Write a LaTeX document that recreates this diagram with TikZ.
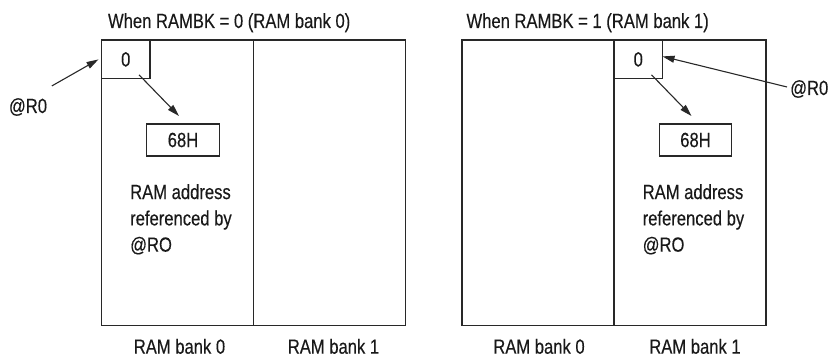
\documentclass[tikz,border=0pt]{standalone}
\usepackage{fontspec}
\setmainfont[FakeStretch=0.81,FakeBold=0.3]{Liberation Sans}
\usepackage{tikz}
\usetikzlibrary{arrows.meta,positioning,calc}
\definecolor{ink}{RGB}{40,40,40}
\definecolor{textgray}{RGB}{25,25,25}

\begin{document}
\begin{tikzpicture}[x=1pt,y=1pt,font=\fontsize{20.5}{26.3}\selectfont,text=textgray,
  bank/.style={draw=ink,line width=1.3pt,outer sep=0pt,inner sep=0pt,minimum width=152pt,minimum height=285.7pt},
  cell/.style={draw=ink,line width=1.2pt,outer sep=0pt,minimum width=#1,minimum height=#1*0.8},
  val/.style={draw=ink,line width=1.2pt,outer sep=0pt,minimum width=72.6pt,minimum height=32pt},
  lbl/.style={inner sep=0pt},
  arr/.style={draw=ink,line width=1.1pt,-{Triangle[length=12pt,width=7pt]}}
]
  \useasboundingbox (0,0) rectangle (832,-358);

  % left: RAMBK = 0
  \node[bank,anchor=north west] (lb0) at (101.5,-40) {};
  \node[bank,right=0pt of lb0] (lb1) {};
  \node[anchor=base west] (ltitle) at ([shift={(3pt,12pt)}]lb0.north west) {When RAMBK = 0 (RAM bank 0)};
  \node[cell=48.5pt,anchor=north west] (lc) at (lb0.north west) {0};
  \node[val,anchor=north] (lv) at ([shift={(81.5pt,-84pt)}]lb0.north west) {68H};
  \node[lbl,align=left,anchor=north west] (lt) at ([shift={(28.5pt,-144pt)}]lb0.north west) {RAM address\\referenced by\\@RO};
  \node[lbl,anchor=base] (lr) at (28,-113) {@R0};
  \node[anchor=base] (ln0) at ([shift={(2pt,-28pt)}]lb0.south) {RAM bank 0};
  \node[anchor=base] (ln1) at ([shift={(4pt,-28pt)}]lb1.south) {RAM bank 1};
  \draw[arr] ([shift={(4.6pt,12pt)}]lr.north east) -- ([xshift=-3pt]lc.west);
  \draw[arr] ([shift={(-11pt,4pt)}]lc.south east) -- ([shift={(-4pt,8pt)}]lv.north);

  % right: RAMBK = 1
  \node[bank,anchor=north west] (rb0) at (462,-40) {};
  \node[bank,right=0pt of rb0] (rb1) {};
  \node[anchor=base west] (rtitle) at ([shift={(1pt,12pt)}]rb0.north west) {When RAMBK = 1 (RAM bank 1)};
  \node[cell=48.5pt,anchor=north west] (rc) at (rb1.north west) {0};
  \node[val,anchor=north] (rv) at ([shift={(81.5pt,-84pt)}]rb1.north west) {68H};
  \node[lbl,align=left,anchor=north west] (rt) at ([shift={(28.5pt,-144pt)}]rb1.north west) {RAM address\\referenced by\\@RO};
  \node[lbl,anchor=base west] (rr) at (790,-95) {@R0};
  \node[anchor=base] (rn0) at ([shift={(1pt,-28pt)}]rb0.south) {RAM bank 0};
  \node[anchor=base] (rn1) at ([shift={(5pt,-28pt)}]rb1.south) {RAM bank 1};
  \draw[arr] ([shift={(-3pt,2pt)}]rr.west) -- ([yshift=3pt]rc.east);
  \draw[arr] ([shift={(-11pt,4pt)}]rc.south east) -- ([shift={(-4pt,8pt)}]rv.north);
\end{tikzpicture}
\end{document}
